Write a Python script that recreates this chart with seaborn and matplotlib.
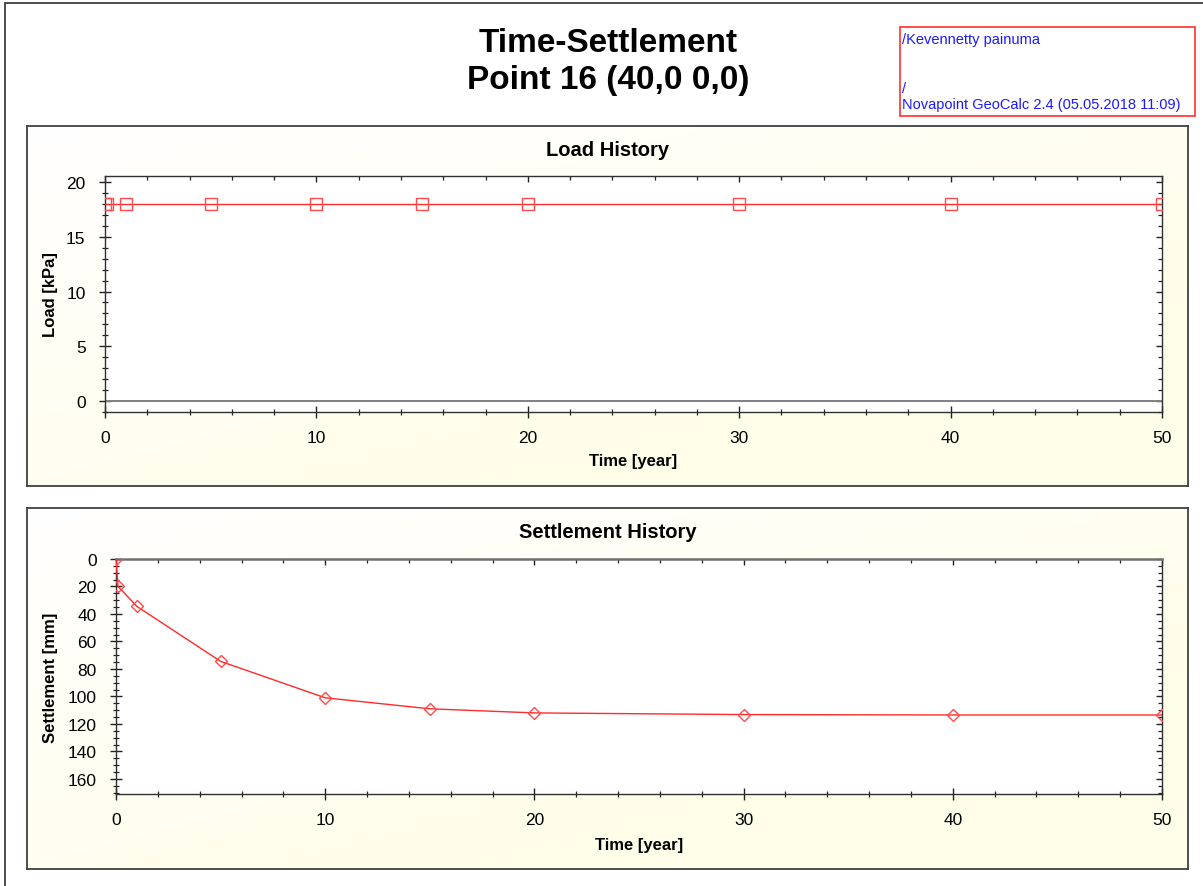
import numpy as np
import pandas as pd
import matplotlib
matplotlib.use("Agg")
import matplotlib.pyplot as plt
import matplotlib.lines as mlines
from matplotlib.patches import Rectangle
from matplotlib.ticker import MultipleLocator
import seaborn as sns

# ---- data -------------------------------------------------------------
load_time = [0, 0.1, 1, 5, 10, 15, 20, 30, 40, 50]          # year
load_value = [18, 18, 18, 18, 18, 18, 18, 18, 18, 18]      # kPa

settle_time = [0, 0.1, 1, 5, 10, 15, 20, 30, 40, 50]       # year
settle_value = [0, 20, 34.5, 74.5, 101, 109, 112, 113.2, 113.5, 113.5]  # mm

main_title = ["Time-Settlement", "Point 16 (40,0 0,0)"]
info_lines = ["/Kevennetty painuma", "/", "Novapoint GeoCalc 2.4 (05.05.2018 11:09)"]

# ---- style ------------------------------------------------------------
sns.set_theme(style="white")
plt.rcParams["font.family"] = ["Liberation Sans", "DejaVu Sans"]
plt.rcParams["text.color"] = "black"
plt.rcParams["axes.labelcolor"] = "black"
plt.rcParams["xtick.labelcolor"] = "black"
plt.rcParams["ytick.labelcolor"] = "black"

W, H = 1203, 887
fig = plt.figure(figsize=(W / 100, H / 100), dpi=100)
fig.patch.set_facecolor("white")


def px_rect(x0, y0, x1, y1):
    """Convert a pixel box (top-left origin) to figure fractions."""
    return [x0 / W, 1 - y1 / H, (x1 - x0) / W, (y1 - y0) / H]


def panel(x0, y0, x1, y1):
    pax = fig.add_axes(px_rect(x0, y0, x1, y1), zorder=0)
    gx, gy = np.meshgrid(np.linspace(0, 1, 200), np.linspace(0, 1, 100))
    t = np.clip(gx * 0.6 + gy * 0.7, 0, 1)
    white = np.array([255, 255, 255]) / 255
    yellow = np.array([255, 254, 232]) / 255
    img = white[None, None, :] * (1 - t[..., None]) + yellow[None, None, :] * t[..., None]
    pax.imshow(img, extent=[0, 1, 0, 1], aspect="auto", origin="upper")
    pax.set_xlim(0, 1)
    pax.set_ylim(0, 1)
    pax.set_xticks([])
    pax.set_yticks([])
    for s in pax.spines.values():
        s.set_color("#404040")
        s.set_linewidth(1.3)
    return pax


def style_axes(ax, ymaj, ymin):
    ax.set_facecolor("white")
    ax.set_xlim(0, 50)
    ax.xaxis.set_major_locator(MultipleLocator(10))
    ax.xaxis.set_minor_locator(MultipleLocator(2))
    ax.yaxis.set_major_locator(MultipleLocator(ymaj))
    ax.yaxis.set_minor_locator(MultipleLocator(ymin))
    ax.tick_params(which="both", direction="inout", top=True, right=True,
                   bottom=True, left=True, labeltop=False, labelright=False,
                   colors="#222222", labelcolor="black", labelsize=12.5)
    ax.tick_params(which="major", length=8, width=1.0)
    ax.tick_params(which="minor", length=5, width=0.9)
    ax.tick_params(axis="x", which="major", pad=9)
    ax.tick_params(axis="y", which="major", pad=10)
    for s in ax.spines.values():
        s.set_color("#303030")
        s.set_linewidth(1.0)
    ax.grid(False)


def inward_top_right(ax):
    # ticks on the top and right frame point into the plot only
    for axis, mk in ((ax.xaxis, mlines.TICKDOWN), (ax.yaxis, mlines.TICKLEFT)):
        for ticks in (axis.get_major_ticks(), axis.get_minor_ticks()):
            for tk in ticks:
                tk.tick2line.set_marker(mk)
                tk.tick2line.set_markersize(tk.tick2line.get_markersize() * 0.55)


# ---- frame lines of the sheet -----------------------------------------
fig.add_artist(mlines.Line2D([5 / W, 5 / W], [0, 1 - 4 / H], color="#404040", lw=1.3,
                             transform=fig.transFigure))
fig.add_artist(mlines.Line2D([5 / W, 1], [1 - 4 / H, 1 - 4 / H], color="#404040", lw=1.3,
                             transform=fig.transFigure))

# ---- headings ---------------------------------------------------------
fig.text(608 / W, 1 - 44 / H, main_title[0], ha="center", va="center",
         fontsize=24, fontweight="bold", color="black")
fig.text(608 / W, 1 - 81 / H, main_title[1], ha="center", va="center",
         fontsize=24, fontweight="bold", color="black")

fig.add_artist(Rectangle((900 / W, 1 - 117 / H), 295 / W, 89 / H, transform=fig.transFigure,
                         fill=False, edgecolor="#ff3030", lw=1.2))
for txt, yp in zip(info_lines, [40, 89, 105]):
    fig.text(902 / W, 1 - yp / H, txt, ha="left", va="center", fontsize=10.5, color="#1a1aff")

# ---- load history -----------------------------------------------------
panel(27, 127, 1188, 487)
fig.text(607.5 / W, 1 - 150 / H, "Load History", ha="center", va="center",
         fontsize=14.5, fontweight="bold", color="black")

ax1 = fig.add_axes(px_rect(105, 177, 1162, 413), zorder=2)
load_df = pd.DataFrame({"time": load_time, "load": load_value})
ax1.axhline(0, color="#808080", lw=1.4, zorder=1)
sns.lineplot(data=load_df, x="time", y="load", ax=ax1, estimator=None, sort=False,
             color="#ff2a2a", lw=1.0, marker="s", markersize=8,
             markerfacecolor="none", markeredgecolor="#ff4a4a", markeredgewidth=1.0,
             zorder=3)
style_axes(ax1, 5, 1)
ax1.set_ylim(-1, 20.55)
ax1.set_xlabel("Time [year]", fontsize=12, fontweight="bold")
ax1.set_ylabel("Load [kPa]", fontsize=12, fontweight="bold")
ax1.xaxis.set_label_coords(0.5, -0.172)
ax1.yaxis.set_label_coords(-0.0445, 0.5)
inward_top_right(ax1)

# ---- settlement history -----------------------------------------------
panel(27, 509, 1188, 870)
fig.text(607.5 / W, 1 - 533 / H, "Settlement History", ha="center", va="center",
         fontsize=14.5, fontweight="bold", color="black")

ax2 = fig.add_axes(px_rect(116, 560, 1162, 795), zorder=2)
settle_df = pd.DataFrame({"time": settle_time, "settlement": settle_value})
sns.lineplot(data=settle_df, x="time", y="settlement", ax=ax2, estimator=None, sort=False,
             color="#ff2a2a", lw=1.0, marker="D", markersize=6,
             markerfacecolor="none", markeredgecolor="#ff4a4a", markeredgewidth=1.0,
             zorder=3)
style_axes(ax2, 20, 5)
ax2.set_ylim(171, 0)
ax2.spines["top"].set_color("#707070")
ax2.spines["top"].set_linewidth(1.8)
ax2.set_xlabel("Time [year]", fontsize=12, fontweight="bold")
ax2.set_ylabel("Settlement [mm]", fontsize=12, fontweight="bold")
ax2.xaxis.set_label_coords(0.5, -0.182)
ax2.yaxis.set_label_coords(-0.0559, 0.5)
inward_top_right(ax2)

fig.savefig("out.png", dpi=100, facecolor="white")
